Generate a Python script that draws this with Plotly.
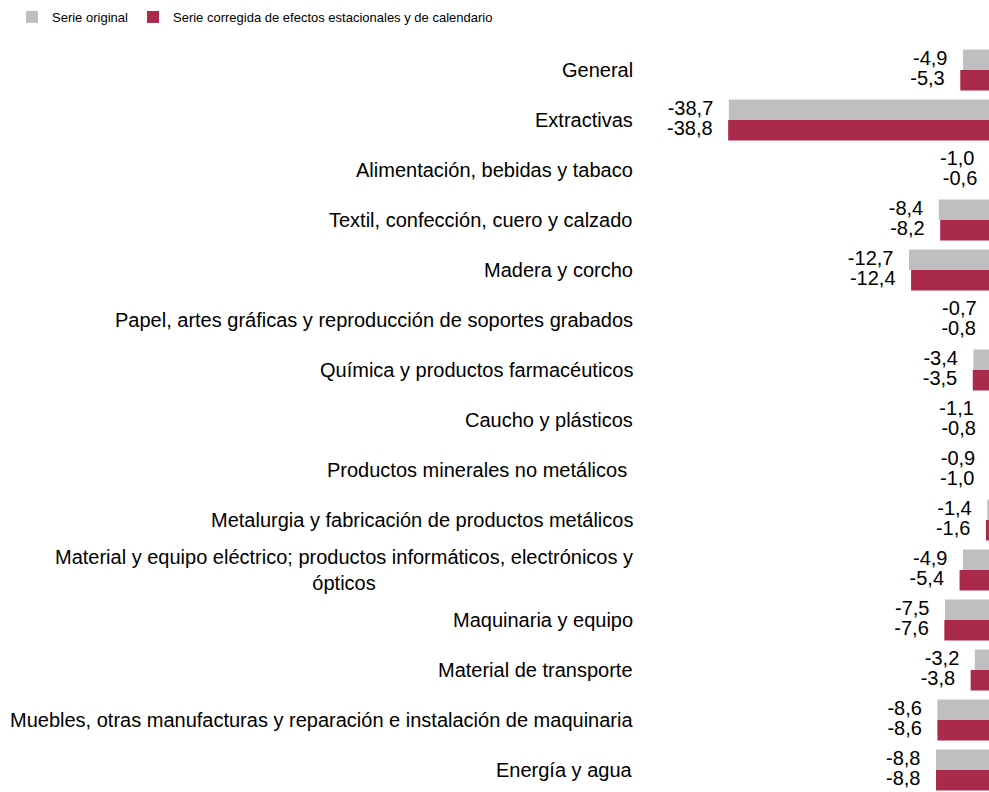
import plotly.graph_objects as go

categories = [
    "General",
    "Extractivas",
    "Alimentación, bebidas y tabaco",
    "Textil, confección, cuero y calzado",
    "Madera y corcho",
    "Papel, artes gráficas y reproducción de soportes grabados",
    "Química y productos farmacéuticos",
    "Caucho y plásticos",
    "Productos minerales no metálicos ",
    "Metalurgia y fabricación de productos metálicos",
    "Material y equipo eléctrico; productos informáticos, electrónicos y<br>ópticos",
    "Maquinaria y equipo",
    "Material de transporte",
    "Muebles, otras manufacturas y reparación e instalación de maquinaria",
    "Energía y agua",
]
serie_original = [-4.9, -38.7, -1.0, -8.4, -12.7, -0.7, -3.4, -1.1, -0.9, -1.4, -4.9, -7.5, -3.2, -8.6, -8.8]
serie_corregida = [-5.3, -38.8, -0.6, -8.2, -12.4, -0.8, -3.5, -0.8, -1.0, -1.6, -5.4, -7.6, -3.8, -8.6, -8.8]
series_names = ["Serie original", "Serie corregida de efectos estacionales y de calendario"]

GREY = "#BFBFBF"
RED = "#A92A4B"
FONT = "Liberation Sans, Arial, sans-serif"
LBL = 20
BARGAP = 0.18
HALF = (1 - BARGAP) / 4  # offset of each of the two grouped bars from category centre
PAD = "\u2002\u00a0"      # gap between value label and bar end

# the chart is wider than the 989px window; its zero line falls just past the right edge
FIG_W = 997

ids = list(range(len(categories)))


def fmt(v):
    return f"{v:.1f}".replace(".", ",") + PAD


fig = go.Figure()
series = [(series_names[0], serie_original, GREY, -HALF), (series_names[1], serie_corregida, RED, HALF)]
for name, vals, col, off in series:
    fig.add_trace(go.Bar(
        y=ids, x=vals, orientation="h", name=name,
        marker=dict(color=col, line=dict(width=0)),
        hoverinfo="skip",
    ))
for name, vals, col, off in series:
    fig.add_trace(go.Scatter(
        y=[i + off for i in ids], x=vals, mode="text",
        text=[fmt(v) for v in vals], textposition="middle left",
        textfont=dict(family=FONT, size=LBL, color="#000000"),
        cliponaxis=False, showlegend=False, hoverinfo="skip",
    ))

annotations = []
for i, lab in enumerate(categories):
    annotations.append(dict(
        xref="x domain", x=0, yref="y", y=i, text=lab, showarrow=False,
        xanchor="right", yanchor="middle", align="center", xshift=-10,
        font=dict(family=FONT, size=LBL, color="#000000"),
    ))

fig.update_layout(
    width=FIG_W, height=792,
    margin=dict(l=0, r=0, t=45, b=0, autoexpand=False),
    paper_bgcolor="white", plot_bgcolor="white",
    barmode="group", bargap=BARGAP, bargroupgap=0,
    font=dict(family=FONT, color="#000000"),
    xaxis=dict(domain=[645 / FIG_W, 1], range=[-50.8, 0], visible=False,
               showgrid=False, zeroline=False),
    yaxis=dict(range=[14.44, -0.5], visible=False, showgrid=False, zeroline=False),
    showlegend=True,
    legend=dict(orientation="h", x=12 / FIG_W, y=1 + (45 - 17) / 747,
                xanchor="left", yanchor="middle", font=dict(family=FONT, size=13, color="#000000"),
                itemwidth=30, bgcolor="rgba(0,0,0,0)", traceorder="normal"),
    annotations=annotations,
)

fig.write_html(
    "out.html",
    config={"displayModeBar": False},
    post_script="document.body.style.margin='0';document.body.style.overflow='hidden';"
                "document.documentElement.style.overflow='hidden';",
)
